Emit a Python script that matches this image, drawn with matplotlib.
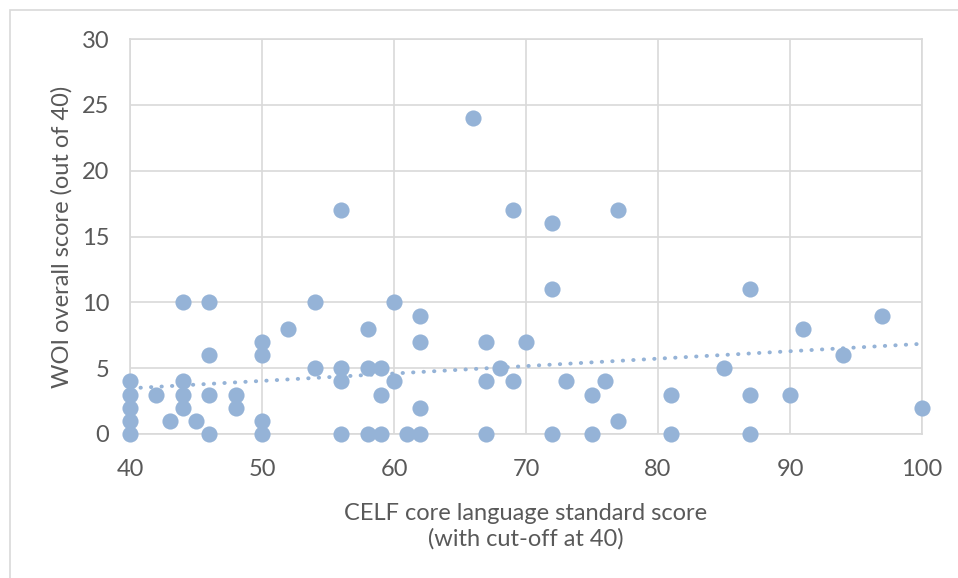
import numpy as np
import matplotlib.pyplot as plt
from matplotlib.patches import Rectangle

# CELF core language standard score vs WOI overall score
celf = [40, 40, 40, 40, 40, 42, 43, 44, 44, 44, 44, 45, 46, 46, 46, 46,
        48, 48, 50, 50, 50, 50, 52, 54, 54, 56, 56, 56, 56, 58, 58, 58,
        59, 59, 59, 60, 60, 61, 62, 62, 62, 62, 66, 67, 67, 67, 68, 69, 69,
        70, 72, 72, 72, 73, 75, 75, 76, 77, 77, 81, 81, 85, 87, 87, 87,
        90, 91, 94, 97, 100]
woi = [4, 3, 2, 1, 0, 3, 1, 10, 4, 3, 2, 1, 10, 6, 3, 0,
       3, 2, 7, 6, 1, 0, 8, 10, 5, 17, 5, 4, 0, 8, 5, 0,
       5, 3, 0, 10, 4, 0, 9, 7, 2, 0, 24, 7, 4, 0, 5, 17, 4,
       7, 16, 11, 0, 4, 3, 0, 4, 17, 1, 3, 0, 5, 11, 3, 0,
       3, 8, 6, 9, 2]

# linear trendline end values
trend_x = [40, 100]
trend_y = [3.47, 6.85]

x_ticks = [40, 50, 60, 70, 80, 90, 100]
y_ticks = [0, 5, 10, 15, 20, 25, 30]

plt.rcParams['font.family'] = ['Lato', 'DejaVu Sans']
grey = '#595959'

fig = plt.figure(figsize=(9.58, 5.78), dpi=100)
fig.patches.append(Rectangle((10/958, -0.1), 1.2, 1 - 10/578 + 0.1,
                             transform=fig.transFigure, fill=False,
                             edgecolor='#d9d9d9', linewidth=1.2))
ax = fig.add_axes([130/958, 1 - 434/578, 792/958, 395/578])

ax.scatter(celf, woi, s=135, color='#95b3d7', zorder=3, linewidths=0,
           clip_on=False)
ax.plot(trend_x, trend_y, color='#95b3d7', linewidth=2.8,
        linestyle=(0, (0.1, 2.6)), dash_capstyle='round', zorder=2)

ax.set_xlim(40, 100)
ax.set_ylim(0, 30)
ax.set_xticks(x_ticks)
ax.set_yticks(y_ticks)
ax.grid(True, color='#d9d9d9', linewidth=1.2)
ax.set_axisbelow(True)
for s in ax.spines.values():
    s.set_color('#d9d9d9')
    s.set_linewidth(1.2)
ax.tick_params(length=0, labelsize=17, labelcolor=grey)
ax.tick_params(axis='y', pad=15)
ax.tick_params(axis='x', pad=18)

fig.text(526/958, 1 - 526/578,
         'CELF core language standard score\n(with cut-off at 40)',
         fontsize=17, color=grey, ha='center', va='center', linespacing=1.25)
fig.text(62/958, 1 - 236.5/578, 'WOI overall score (out of 40)',
         fontsize=17, color=grey, ha='center', va='center', rotation=90)

fig.savefig('out.png', dpi=100)
